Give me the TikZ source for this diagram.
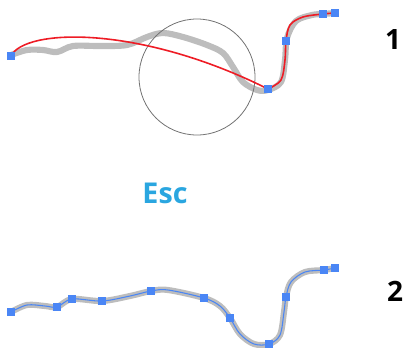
\documentclass[tikz,border=0pt]{standalone}
\usepackage{fontspec}
\setmainfont{Open Sans}
\definecolor{ptblue}{HTML}{4A86F5}
\definecolor{escblue}{HTML}{2AA6E0}
\definecolor{trace}{HTML}{BDBDBD}
\definecolor{redc}{HTML}{EE1C25}
\begin{document}
\begin{tikzpicture}[x=0.75pt,y=-0.75pt,
  sq/.style={rectangle,fill=ptblue,minimum size=5.4pt,inner sep=0pt},
  graytrace/.style={draw=trace,line width=4.6pt,line cap=round,line join=round},
  redline/.style={draw=redc,line width=1.2pt},
  blueline/.style={draw=ptblue,line width=0.8pt},
  lbl/.style={font=\bfseries\fontsize{21pt}{24pt}\selectfont,text=black,inner sep=0pt}]
\useasboundingbox (0,0) rectangle (404,347);
% ---- part 1 ----
\draw[graytrace] plot[smooth,tension=0.55] coordinates {(11,55) (27,50) (43,50) (57,52) (73,46) (100,46) (127,45) (147,37) (163,33) (183,37) (207,45) (223,53) (233,67) (243,82) (257,90) (268,90) (281,82) (285,60) (287,38) (296,21) (312,15) (323,14) (335,13)};
\draw[gray!90!black,line width=0.6pt] (197,77) circle (58);
\draw[redline] (11,56) .. controls (25,28) and (140,25) .. (268,89);
\draw[redline] plot[smooth,tension=0.55] coordinates {(268,89) (281,80) (285,60) (286,41) (290,25) (303,17) (323,14) (335,13)};
\node[sq] (a1) at (11,56) {};
\node[sq] (a2) at (268,89) {};
\node[sq] (a3) at (286,41) {};
\node[sq] (a4) at (323,14) {};
\node[sq] (a5) at (335,13) {};
\node[lbl] (n1) at (393,40) {1};
% ---- Esc ----
\node[font=\bfseries\fontsize{21.5pt}{24pt}\selectfont,text=escblue,inner sep=0pt] (esc) at (165,193) {Esc};
% ---- part 2 ----
\draw[graytrace] plot[smooth,tension=0.55] coordinates {(11,312) (27,305) (45,306) (57,307) (72,299) (102,301) (130,296) (151,291) (168,290) (204,298) (220,306) (230,318) (240,334) (254,344) (269,344) (280,335) (284,312) (286,297) (291,282) (305,272) (324,270) (335,268)};
\draw[blueline] plot[smooth,tension=0.55] coordinates {(11,312) (27,305) (45,306) (57,307) (72,299) (102,301) (130,296) (151,291) (168,290) (204,298) (220,306) (230,318) (240,334) (254,344) (269,344) (280,335) (284,312) (286,297) (291,282) (305,272) (324,270) (335,268)};
\node[sq] (b1) at (11,312) {};
\node[sq] (b2) at (57,307) {};
\node[sq] (b3) at (72,299) {};
\node[sq] (b4) at (102,301) {};
\node[sq] (b5) at (151,291) {};
\node[sq] (b6) at (204,298) {};
\node[sq] (b7) at (230,318) {};
\node[sq] (b8) at (269,344) {};
\node[sq] (b9) at (286,297) {};
\node[sq] (b10) at (324,270) {};
\node[sq] (b11) at (335,268) {};
\node[lbl] (n2) at (395,291) {2};
\end{tikzpicture}
\end{document}
